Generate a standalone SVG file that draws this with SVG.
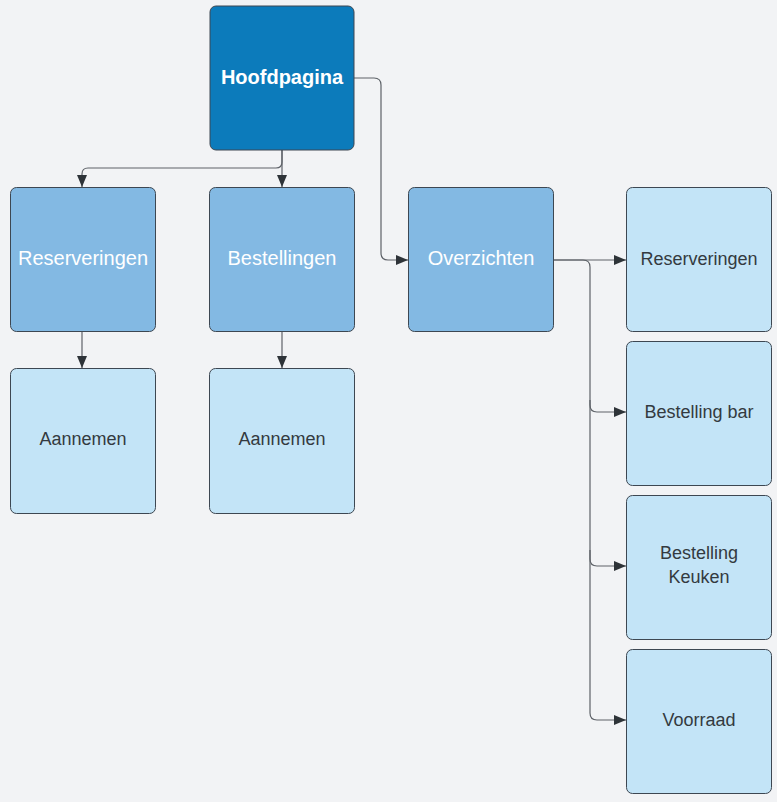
<svg xmlns="http://www.w3.org/2000/svg" width="777" height="802" viewBox="0 0 777 802">
  <style>
    .box { stroke: #3d4752; stroke-width: 1; }
    .dark { fill: #0c7bbb; }
    .mid { fill: #83b9e3; }
    .light { fill: #c3e4f7; }
    .lbl { font-family: "Liberation Sans", Arial, sans-serif; text-anchor: middle; dominant-baseline: central; }
    .w { fill: #ffffff; font-size: 20px; }
    .d { fill: #333a40; font-size: 18px; }
    .edge { fill: none; stroke: #5e6268; stroke-width: 1.2; }
  </style>
  <defs>
    <marker id="arr" viewBox="0 0 12 10" refX="12" refY="5" markerWidth="12" markerHeight="10" markerUnits="userSpaceOnUse" orient="auto">
      <path d="M0,0 L12,5 L0,10 z" fill="#2e3338"/>
    </marker>
  </defs>
  <rect width="777" height="802" fill="#f2f3f5"/>

  <g id="connectors">
    <path class="edge" d="M282,150 V187" marker-end="url(#arr)"/>
    <path class="edge" d="M282,150 V162 Q282,168 276,168 H88 Q82,168 82,174 V187" marker-end="url(#arr)"/>
    <path class="edge" d="M354,78 H374 Q381,78 381,85 V253 Q381,260 388,260 H408" marker-end="url(#arr)"/>
    <path class="edge" d="M82,331 V368" marker-end="url(#arr)"/>
    <path class="edge" d="M282,331 V368" marker-end="url(#arr)"/>
    <path class="edge" d="M553,260 H626" marker-end="url(#arr)"/>
    <path class="edge" d="M553,260 H583 Q590,260 590,267 V405 Q590,412 597,412 H626" marker-end="url(#arr)"/>
    <path class="edge" d="M590,400 V559 Q590,566 597,566 H626" marker-end="url(#arr)"/>
    <path class="edge" d="M590,550 V713 Q590,720 597,720 H626" marker-end="url(#arr)"/>
  </g>

  <g id="hoofdpagina">
    <rect class="box dark" x="210" y="6" width="144" height="144" rx="6"/>
    <text class="lbl w" x="282" y="77" font-weight="bold">Hoofdpagina</text>
  </g>
  <g id="reserveringen">
    <rect class="box mid" x="10.5" y="187.5" width="145" height="144" rx="6"/>
    <text class="lbl w" x="83" y="258">Reserveringen</text>
  </g>
  <g id="bestellingen">
    <rect class="box mid" x="209.5" y="187.5" width="145" height="144" rx="6"/>
    <text class="lbl w" x="282" y="258">Bestellingen</text>
  </g>
  <g id="overzichten">
    <rect class="box mid" x="408.5" y="187.5" width="145" height="144" rx="6"/>
    <text class="lbl w" x="481" y="258">Overzichten</text>
  </g>
  <g id="aannemen-reserveringen">
    <rect class="box light" x="10.5" y="368.5" width="145" height="145" rx="6"/>
    <text class="lbl d" x="83" y="439">Aannemen</text>
  </g>
  <g id="aannemen-bestellingen">
    <rect class="box light" x="209.5" y="368.5" width="145" height="145" rx="6"/>
    <text class="lbl d" x="282" y="439">Aannemen</text>
  </g>
  <g id="overzicht-reserveringen">
    <rect class="box light" x="626.5" y="187.5" width="145" height="144" rx="6"/>
    <text class="lbl d" x="699" y="259">Reserveringen</text>
  </g>
  <g id="bestelling-bar">
    <rect class="box light" x="626.5" y="341.5" width="145" height="144" rx="6"/>
    <text class="lbl d" x="699" y="412">Bestelling bar</text>
  </g>
  <g id="bestelling-keuken">
    <rect class="box light" x="626.5" y="495.5" width="145" height="144" rx="6"/>
    <text class="lbl d" x="699" y="553">Bestelling</text>
    <text class="lbl d" x="699" y="577">Keuken</text>
  </g>
  <g id="voorraad">
    <rect class="box light" x="626.5" y="649.5" width="145" height="144" rx="6"/>
    <text class="lbl d" x="699" y="720">Voorraad</text>
  </g>
</svg>
